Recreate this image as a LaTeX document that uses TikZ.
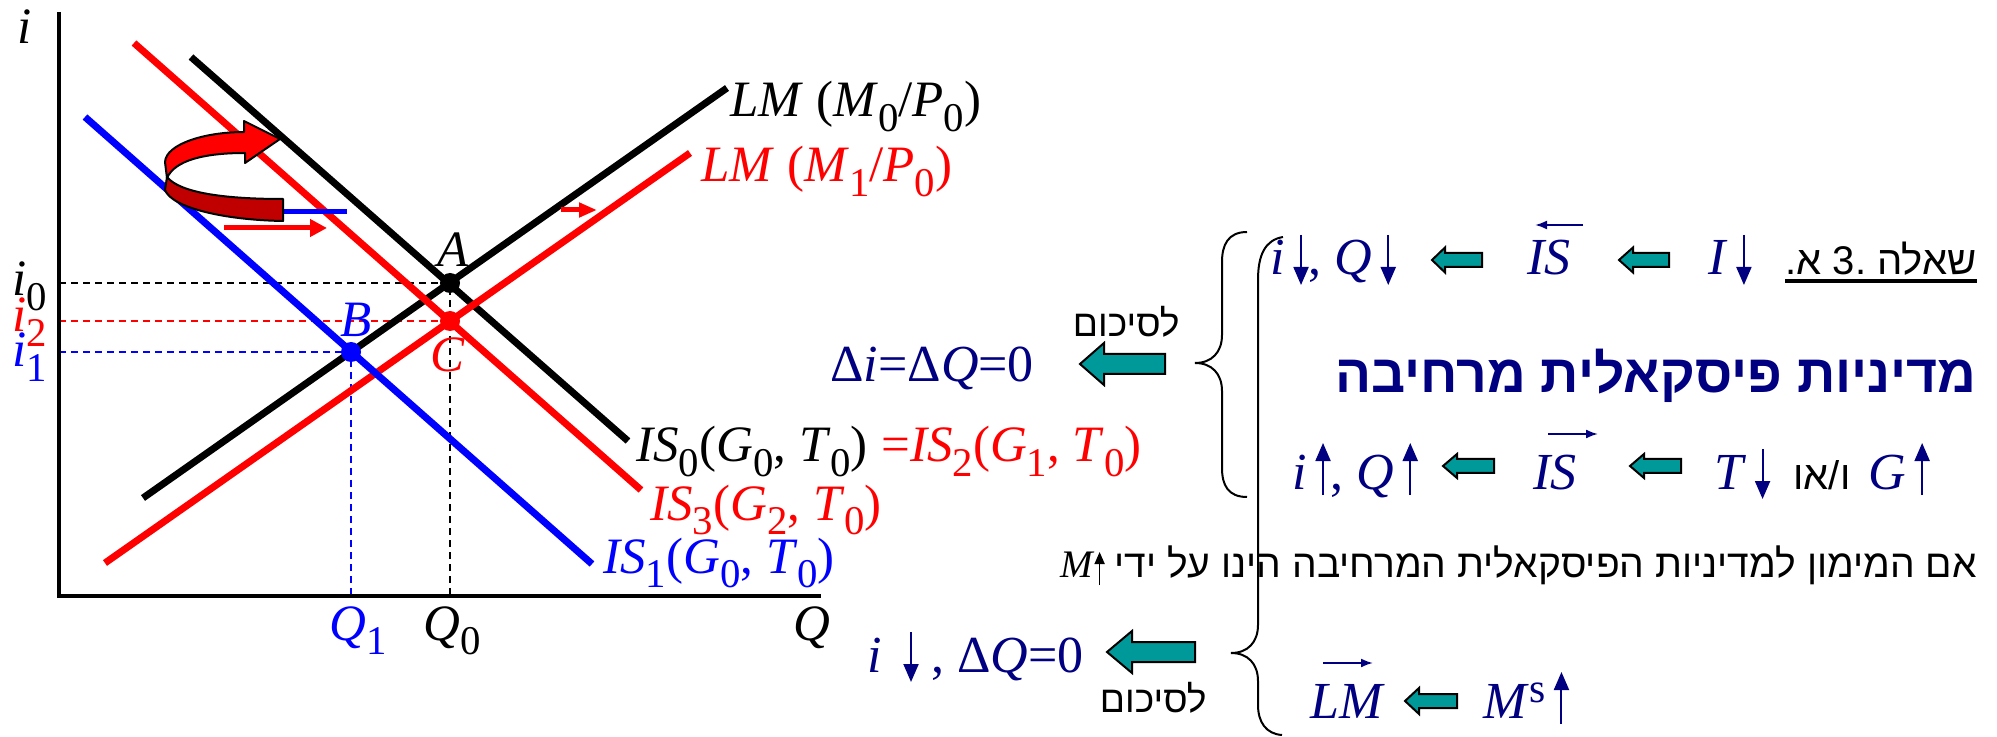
\documentclass[tikz,border=0pt]{standalone}
\usepackage{fontspec}
\usepackage{graphicx}
\setmainfont{Liberation Serif}
\newfontfamily\heb[Script=Hebrew]{Liberation Sans}
\usetikzlibrary{arrows.meta}
\TeXXeTstate=1
\definecolor{navy}{RGB}{0,0,128}
\definecolor{tealc}{RGB}{0,153,153}
\definecolor{darkred}{RGB}{192,0,0}
\newcommand{\sbs}[1]{\raisebox{-0.28em}{\scalebox{0.8}{\upshape #1}}}
\newcommand{\dnar}{\,\tikz[baseline=0pt]\draw[navy,line width=1pt,-{Triangle[length=9pt,width=7.5pt]}] (0pt,20pt) -- (0pt,-5pt);}
\newcommand{\upar}{\,\tikz[baseline=0pt]\draw[navy,line width=1pt,-{Triangle[length=9pt,width=7.5pt]}] (0pt,-3pt) -- (0pt,23pt);}
\newcommand{\smup}{\tikz[baseline=0pt]\draw[black,line width=0.8pt,-{Triangle[length=6pt,width=5pt]}] (0pt,-4pt) -- (0pt,12.5pt);}
\newcommand{\tarr}[6]{\draw[tealblk] (#1,#2) -- ++(#4,-#5) -- ++(0,#5-#6) -- ++(#3-#4,0) -- ++(0,2*#6) -- ++(-#3+#4,0) -- ++(0,#5-#6) -- cycle;}
\begin{document}
\begin{tikzpicture}[x=0.5pt,y=-0.5pt,
  glab/.style={inner sep=0pt,font=\fontsize{25.5}{30}\selectfont},
  nlab/.style={inner sep=0pt,font=\fontsize{26}{30}\selectfont,text=navy},
  heblab/.style={inner sep=0pt,font=\heb\fontsize{18.6}{22}\selectfont},
  qlab/.style={inner sep=0pt,font=\heb\fontsize{20}{24}\selectfont},
  titlelab/.style={inner sep=0pt,text=navy,font=\heb\bfseries\fontsize{26.7}{32}\selectfont},
  sentlab/.style={inner sep=0pt,font=\fontsize{19.5}{24}\selectfont},
  curve/.style={line width=3.5pt},
  dashln/.style={line width=1pt,dash pattern=on 3.5pt off 2.5pt},
  tealblk/.style={fill=tealc,draw=black,line width=1pt,line join=miter},
  brace/.style={line width=1pt},
  overar/.style={navy,line width=1pt,-{Latex[length=6pt,width=4.5pt]}}]
\useasboundingbox (0,0) rectangle (1997,737);
% coordinates
\coordinate (O) at (59,596);
\coordinate (Ytop) at (59,12);
\coordinate (Xend) at (821,596);
\coordinate (L0a) at (143,498); \coordinate (L0b) at (727,88);
\coordinate (L1a) at (105,563); \coordinate (L1b) at (690,153);
\coordinate (S0a) at (191,57);  \coordinate (S0b) at (628,441);
\coordinate (S3a) at (134,43);  \coordinate (S3b) at (641,490);
\coordinate (S1a) at (85,117);  \coordinate (S1b) at (592,564);
\coordinate (A) at (450,283);
\coordinate (C) at (450,321);
\coordinate (B) at (351,352);
% dashed guides
\draw[dashln] (Ytop |- A) -- (A) -- (A |- O);
\draw[dashln,red] (Ytop |- C) -- (C);
\draw[dashln,blue] (Ytop |- B) -- (B) -- (B |- O);
% axes
\draw[line width=2pt] (Ytop) -- (O) -- (Xend);
% curves
\draw[curve] (L0a) -- (L0b);
\draw[curve] (S0a) -- (S0b);
\draw[curve,red] (L1a) -- (L1b);
\draw[curve,red] (S3a) -- (S3b);
\draw[curve,blue] (S1a) -- (S1b);
% shift markers
\coordinate (bs1) at (228,212); \coordinate (bs2) at (347,212);
\draw[blue,line width=2.5pt] (bs1) -- (bs2);
\coordinate (rs1) at (224,228); \coordinate (rs2) at (327,228);
\draw[red,line width=2.5pt,-{Triangle[length=8.5pt,width=8.5pt]}] (rs1) -- (rs2);
\coordinate (ls1) at (561,210); \coordinate (ls2) at (597,210);
\draw[red,line width=2.5pt,-{Triangle[length=9pt,width=7pt]}] (ls1) -- (ls2);
% curved arrow
\draw[fill=darkred,line width=1pt,line join=round] (283,199) .. controls (225,199) and (180,193) .. (167,177) -- (165,190) .. controls (172,208) and (225,220) .. (283,221) -- cycle;
\draw[fill=red,line width=1pt,line join=round] (167,178) -- (165,162) .. controls (166,144) and (205,132) .. (244,132) -- (244,121) -- (280,139) -- (245,163) -- (245,153) .. controls (205,153) and (175,160) .. (167,178) -- cycle;
% points
\fill (A) circle (5pt);
\fill[red] (C) circle (5pt);
\fill[blue] (B) circle (5pt);
% graph labels
\node[glab,anchor=base west] (ilab) at (17,44) {\textit{i}};
\node[glab,anchor=base west] (lm0) at (730,117) {\textit{LM} (\textit{M}\sbs{0}/\textit{P}\sbs{0})};
\node[glab,red,anchor=base west] (lm1) at (701,182) {\textit{LM} (\textit{M}\sbs{1}/\textit{P}\sbs{0})};
\node[glab,anchor=base west] (is0) at (636,462) {\textit{IS}\sbs{0}(\textit{G}\sbs{0}, \textit{T}\sbs{0})};
\node[glab,red,anchor=base west] (is2) at (881,462) {=\textit{IS}\sbs{2}(\textit{G}\sbs{1}, \textit{T}\sbs{0})};
\node[glab,red,anchor=base west] (is3) at (650,520) {\textit{IS}\sbs{3}(\textit{G}\sbs{2}, \textit{T}\sbs{0})};
\node[glab,blue,anchor=base west] (is1) at (603,573) {\textit{IS}\sbs{1}(\textit{G}\sbs{0}, \textit{T}\sbs{0})};
\node[glab,anchor=base] (Alab) at (453,267) {\textit{A}};
\node[glab,blue,anchor=base] (Blab) at (356,337) {\textit{B}};
\node[glab,red,anchor=base] (Clab) at (448,372) {\textit{C}};
\node[glab,blue,anchor=base] (q1) at (358,640) {\textit{Q}\sbs{1}};
\node[glab,anchor=base] (q0) at (452,640) {\textit{Q}\sbs{0}};
\node[glab,anchor=base west] (qax) at (793,640) {\textit{Q}};
\node[glab,anchor=base west] (i0) at (12,296) {\textit{i}\sbs{0}};
\node[glab,red,anchor=base west] (i2) at (12,332) {\textit{i}\sbs{2}};
\node[glab,blue,anchor=base west] (i1) at (12,367) {\textit{i}\sbs{1}};
% summaries
\node[nlab,anchor=base west] (sum1) at (830,382) {Δ\textit{i}=Δ\textit{Q}=0};
\node[nlab,anchor=base west] (sum2) at (867,672) {\textit{i}\ \dnar\ , Δ\textit{Q}=0};
\node[heblab,anchor=base east] (lsum1) at (1180,337) {\beginR לסיכום\endR};
\node[heblab,anchor=base east] (lsum2) at (1207,712) {\beginR לסיכום\endR};
\tarr{1080}{364}{85}{24}{21}{10}
\tarr{1107}{652}{88}{25}{21}{10}
% braces
\draw[brace] (1247,232) .. controls (1228,232) and (1222,245) .. (1222,262) -- (1222,335) .. controls (1222,352) and (1212,363) .. (1195,363) .. controls (1212,363) and (1222,374) .. (1222,391) -- (1222,468) .. controls (1222,485) and (1228,497) .. (1247,497);
\draw[brace] (1283,237) .. controls (1265,240) and (1258,255) .. (1258,280) -- (1258,625) .. controls (1258,642) and (1248,653) .. (1231,653) .. controls (1248,653) and (1258,664) .. (1258,681) -- (1258,705) .. controls (1258,722) and (1266,734) .. (1282,735);
% row 1
\node[nlab,anchor=base west] (r1a) at (1270,275) {\textit{i}\dnar, \textit{Q}\dnar};
\tarr{1432}{260}{50}{13}{12.5}{7}
\node[nlab,anchor=base west] (r1is) at (1527,275) {\textit{IS}};
\coordinate (oa1) at (1583,225); \coordinate (oa2) at (1535,225);
\draw[overar] (oa1) -- (oa2);
\tarr{1619}{260}{50}{14}{12.5}{7}
\node[nlab,anchor=base west] (r1i) at (1708,275) {\textit{I}\dnar};
\node[qlab,anchor=base east] (q3) at (1977,275) {.\kern0pt\beginR א\endR\ .3\ \beginR שאלה\endR};
\draw[line width=2pt] ([yshift=-3pt]q3.base west) -- ([yshift=-3pt]q3.base east);
% row 2
\node[titlelab,anchor=base east] (title) at (1977,393) {\beginR מדיניות פיסקאלית מרחיבה\endR};
% row 3
\node[nlab,anchor=base west] (r3a) at (1292,489) {\textit{i}\upar, \textit{Q}\upar};
\tarr{1443}{466}{51}{14}{12}{7}
\node[nlab,anchor=base west] (r3is) at (1533,489) {\textit{IS}};
\coordinate (ob1) at (1548,434); \coordinate (ob2) at (1598,434);
\draw[overar] (ob1) -- (ob2);
\tarr{1630}{466}{51}{14}{12}{7}
\node[nlab,anchor=base west] (r3t) at (1714,489) {\textit{T}\dnar};
\node[qlab,anchor=base west] (r3o) at (1793,489) {\beginR ו/או\endR};
\node[nlab,anchor=base west] (r3g) at (1868,489) {\textit{G}\upar};
% row 4
\node[sentlab,anchor=base east] (sent) at (1977,577) {\textit{M}\smup\ {\heb\beginR אם המימון למדיניות הפיסקאלית המרחיבה הינו על ידי\endR}};
% LM row
\node[nlab,anchor=base west] (lmr) at (1310,718) {\textit{LM}};
\coordinate (oc1) at (1323,663); \coordinate (oc2) at (1373,663);
\draw[overar] (oc1) -- (oc2);
\tarr{1405}{701}{52}{14}{13}{7}
\node[nlab,anchor=base west] (msr) at (1483,718) {\textit{M}\raisebox{0.3em}{\scalebox{0.8}{s}}\upar};
\end{tikzpicture}
\end{document}
